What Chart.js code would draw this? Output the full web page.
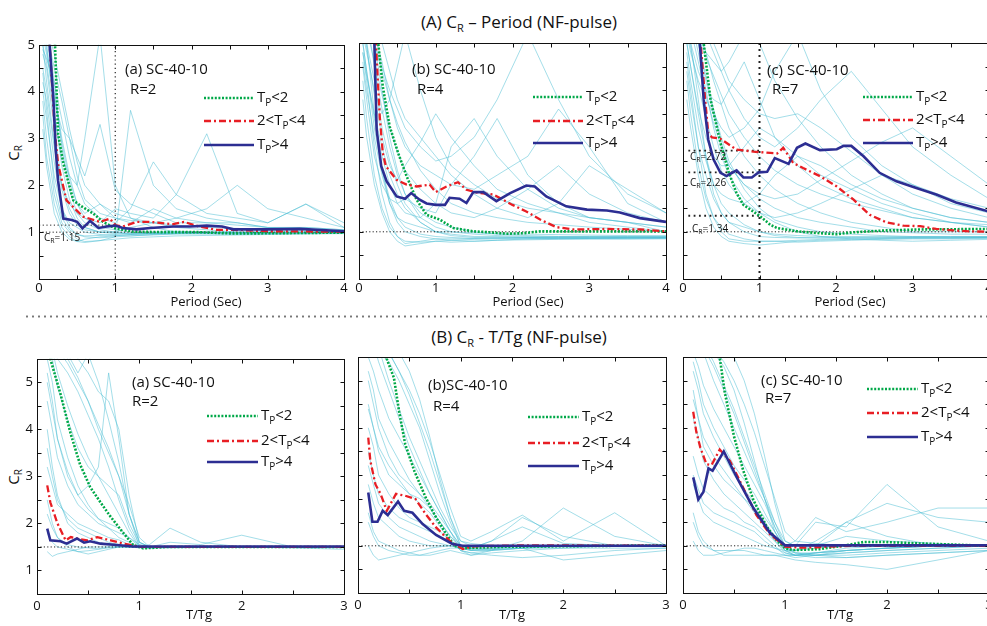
<!DOCTYPE html>
<html>
<head>
<meta charset="utf-8">
<script src="https://cdn.jsdelivr.net/npm/chart.js@4.4.1/dist/chart.umd.min.js"></script>
<style>
  html, body { margin: 0; padding: 0; background: #fff; overflow: hidden; }
  #fig { position: relative; width: 987px; height: 626px; overflow: hidden; font-family: "Open Sans", sans-serif; color: #111; }
  #fig canvas { position: absolute; }
  .title { position: absolute; left: 0; width: 1038px; text-align: center; font-size: 17px; line-height: 24px; }
  .title sub { font-size: 11px; vertical-align: -4px; line-height: 0; }
  .ylab { position: absolute; width: 40px; height: 20px; line-height: 20px; text-align: center; font-size: 15px; transform: rotate(-90deg); }
  .ylab sub { font-size: 10px; vertical-align: -3px; line-height: 0; }
  .sep { position: absolute; left: 24px; top: 315px; width: 963px; height: 3px;
         background: radial-gradient(circle, #777 0.9px, transparent 1.3px) 0 0 / 6px 3px repeat-x; }
</style>
</head>
<body>
<div id="fig">
  <div class="title" style="top:10px">(A) C<sub>R</sub> – Period (NF-pulse)</div>
  <div class="sep"></div>
  <div class="title" style="top:325px">(B) C<sub>R</sub> - T/Tg (NF-pulse)</div>
  <div class="ylab" style="left:-7px;top:143px">C<sub>R</sub></div>
  <div class="ylab" style="left:-7px;top:467px">C<sub>R</sub></div>
</div>
<script>
// ---- shared x grids of the individual (cyan) records ----
const topX = [0.05, 0.1, 0.2, 0.3, 0.4, 0.5, 0.6, 0.8, 1.0, 1.2, 1.5, 1.8, 2.2, 2.6, 3.0, 3.5, 4.0];
const botX = [0.1, 0.15, 0.2, 0.3, 0.4, 0.5, 0.6, 0.7, 0.8, 0.9, 1.0, 1.1, 1.3, 1.6, 2.0, 2.5, 3.0];

// ---- reference levels ----
const baseTop = 1.0;
const baseBot = 1.5;
const crMarksA = [1.15];
const crMarksC = [2.72, 2.26, 1.34];
const periodMark = 1.0;

// ---- (A)(a) R=2 ----
const recordsAa = [
  [4.8, 4.5, 3.2, 2.0, 1.5, 1.2, 1.1, 1.0, 1.0, 0.95, 0.98, 1.0, 1.0, 0.98, 0.97, 0.98, 1.0],
  [5.5, 5.2, 4.0, 3.0, 2.2, 1.6, 1.3, 1.1, 1.05, 1.0, 1.0, 1.02, 1.0, 1.0, 1.0, 1.0, 1.0],
  [4.2, 3.8, 2.5, 1.5, 1.1, 0.95, 0.9, 0.88, 0.9, 0.92, 0.95, 0.97, 0.96, 0.95, 0.96, 0.97, 0.98],
  [5.0, 4.6, 3.5, 2.6, 2.2, 2.0, 3.0, 5.2, 2.0, 1.3, 1.1, 1.0, 1.0, 1.0, 1.0, 1.0, 1.0],
  [3.8, 3.0, 1.8, 1.2, 1.0, 0.85, 0.8, 0.82, 0.9, 3.6, 2.0, 1.5, 1.3, 1.2, 1.1, 1.05, 1.0],
  [4.5, 4.0, 2.8, 2.0, 1.6, 1.4, 1.3, 1.2, 1.5, 1.4, 1.3, 1.8, 3.1, 1.4, 1.2, 1.6, 1.1],
  [5.8, 5.0, 3.6, 2.4, 1.7, 1.3, 1.1, 1.0, 1.0, 1.1, 1.2, 1.1, 1.05, 1.0, 1.0, 1.0, 0.98],
  [3.5, 2.6, 1.6, 1.1, 0.9, 0.8, 0.85, 0.9, 0.92, 0.95, 0.97, 0.98, 0.98, 0.98, 0.98, 0.98, 0.99],
  [4.9, 4.7, 4.2, 3.4, 2.6, 2.0, 1.6, 1.3, 1.2, 1.5, 2.5, 1.8, 1.4, 1.3, 1.2, 1.6, 1.2],
  [5.2, 4.8, 3.8, 3.2, 3.0, 2.6, 2.2, 3.3, 1.9, 1.6, 1.4, 1.2, 1.2, 1.2, 1.1, 1.1, 1.05],
  [4.0, 3.4, 2.2, 1.5, 1.2, 1.1, 1.0, 0.95, 0.93, 0.92, 0.94, 0.96, 0.97, 0.97, 0.97, 0.98, 0.98],
  [5.6, 5.3, 4.5, 3.8, 3.0, 2.2, 1.7, 1.4, 1.3, 1.25, 1.2, 1.3, 1.5, 2.0, 1.5, 1.3, 1.1],
  [6.0, 5.5, 4.2, 2.8, 1.9, 1.4, 1.2, 1.05, 1.0, 0.98, 0.97, 0.98, 0.99, 0.99, 0.99, 0.99, 1.0],
  [5.0, 4.2, 2.9, 1.9, 1.4, 1.15, 1.05, 1.0, 0.97, 0.96, 0.96, 0.97, 0.98, 0.98, 0.98, 0.99, 0.99],
  [4.4, 3.6, 2.0, 1.3, 1.05, 0.95, 0.92, 0.93, 0.95, 0.97, 0.98, 0.99, 0.99, 0.99, 0.99, 0.99, 1.0],
  [5.4, 4.9, 3.9, 2.9, 2.1, 1.6, 1.4, 1.6, 1.3, 1.2, 1.5, 1.3, 1.2, 1.15, 1.1, 1.1, 1.05],
  [3.2, 2.4, 1.4, 1.0, 0.85, 0.8, 0.78, 0.82, 0.85, 0.88, 0.9, 0.92, 0.93, 0.94, 0.95, 0.96, 0.97],
  [5.7, 5.4, 4.8, 4.0, 3.2, 2.5, 2.0, 1.6, 1.4, 1.3, 1.2, 1.15, 1.1, 1.08, 1.05, 1.03, 1.02]
];
const greenAaX = [0.15, 0.21, 0.25, 0.32, 0.45, 0.54, 0.71, 0.84, 1.0, 1.24, 1.67, 2.1, 2.55, 4.0];
const greenAaY = [6.5, 5.0, 3.1, 2.46, 1.68, 1.57, 1.4, 1.22, 1.08, 1.01, 1.0, 1.0, 0.97, 0.99];
const redAaX = [0.1, 0.14, 0.21, 0.25, 0.36, 0.49, 0.58, 0.8, 0.93, 1.0, 1.1, 1.28, 1.46, 1.76, 1.9, 2.1, 2.33, 2.55, 3.0, 4.0];
const redAaY = [6.5, 5.0, 3.09, 2.46, 1.68, 1.47, 1.33, 1.22, 1.29, 1.15, 1.12, 1.22, 1.22, 1.17, 1.22, 1.12, 1.05, 1.05, 1.02, 1.01];
const blueAaX = [0.1, 0.14, 0.19, 0.22, 0.25, 0.32, 0.43, 0.5, 0.57, 0.67, 0.78, 0.89, 1.0, 1.1, 1.28, 1.46, 1.76, 1.98, 2.2, 2.4, 2.55, 3.0, 3.42, 4.0];
const blueAaY = [6.5, 5.0, 3.8, 2.74, 2.1, 1.29, 1.26, 1.22, 1.08, 1.24, 1.09, 1.12, 1.14, 1.09, 1.06, 1.09, 1.12, 1.12, 1.14, 1.12, 1.06, 1.06, 1.07, 1.02];

// ---- (A)(b) R=4 ----
const recordsAb = [
  [5.5, 5.0, 3.5, 2.3, 1.6, 1.2, 1.0, 0.9, 0.85, 0.85, 0.86, 0.87, 0.88, 0.88, 0.88, 0.88, 0.88],
  [6.0, 5.6, 4.5, 3.6, 2.8, 2.2, 1.8, 1.4, 1.2, 1.1, 1.0, 0.95, 0.92, 0.9, 0.9, 0.9, 0.9],
  [4.8, 4.2, 2.8, 1.8, 1.2, 0.9, 0.75, 0.8, 0.85, 0.82, 0.8, 0.82, 0.85, 0.85, 0.85, 0.85, 0.86],
  [5.8, 5.5, 5.0, 4.5, 4.0, 3.6, 3.2, 2.8, 2.5, 2.6, 3.0, 3.8, 5.2, 3.8, 2.6, 1.8, 1.4],
  [5.2, 4.8, 4.0, 3.5, 3.8, 4.5, 5.2, 4.0, 3.0, 2.4, 2.0, 1.7, 1.5, 1.4, 1.3, 1.2, 1.1],
  [4.5, 3.8, 2.6, 2.0, 1.7, 1.6, 1.7, 1.5, 1.4, 2.0, 2.6, 3.4, 2.2, 1.6, 1.3, 1.2, 1.1],
  [5.5, 5.0, 4.2, 3.2, 2.5, 2.0, 1.6, 1.2, 1.0, 0.95, 0.9, 0.9, 0.88, 0.87, 0.87, 0.88, 0.88],
  [3.8, 3.0, 2.0, 1.4, 1.0, 0.8, 0.7, 0.75, 0.8, 0.78, 0.8, 0.82, 0.83, 0.84, 0.85, 0.85, 0.85],
  [5.9, 5.7, 5.2, 4.6, 3.8, 3.2, 2.8, 2.4, 2.2, 2.0, 1.9, 2.2, 2.6, 3.6, 2.8, 1.6, 1.2],
  [5.0, 4.4, 3.4, 2.6, 2.0, 1.6, 1.4, 1.3, 1.6, 2.8, 3.4, 2.6, 1.9, 1.5, 1.3, 1.2, 1.0],
  [6.0, 5.8, 5.5, 5.0, 4.4, 3.8, 3.4, 3.0, 2.6, 2.2, 1.8, 1.5, 1.3, 1.6, 2.4, 1.9, 1.4],
  [4.6, 4.0, 3.0, 2.2, 1.6, 1.3, 1.2, 1.1, 1.0, 1.0, 0.98, 0.96, 0.95, 0.94, 0.93, 0.92, 0.92],
  [5.3, 4.9, 3.9, 3.0, 2.4, 2.1, 2.4, 2.9, 3.5, 3.0, 2.4, 1.9, 1.6, 1.4, 1.2, 1.1, 1.0],
  [6.0, 5.8, 5.0, 4.0, 3.0, 2.3, 1.8, 1.3, 1.1, 1.0, 0.95, 0.92, 0.9, 0.9, 0.9, 0.9, 0.9],
  [5.0, 4.4, 3.2, 2.3, 1.7, 1.3, 1.1, 0.95, 0.9, 0.88, 0.86, 0.86, 0.86, 0.86, 0.86, 0.86, 0.87],
  [4.2, 3.4, 2.2, 1.5, 1.1, 0.9, 0.8, 0.78, 0.8, 0.82, 0.84, 0.85, 0.85, 0.86, 0.86, 0.87, 0.87],
  [5.6, 5.3, 4.6, 3.9, 3.2, 2.7, 2.3, 1.9, 1.6, 1.4, 1.3, 1.5, 1.9, 2.4, 1.8, 1.4, 1.2],
  [5.9, 5.6, 5.0, 4.4, 3.8, 3.3, 2.9, 2.3, 1.9, 1.6, 1.4, 1.3, 1.2, 1.15, 1.1, 1.05, 1.0],
  [4.8, 4.3, 3.5, 2.8, 2.2, 1.8, 1.5, 1.2, 1.0, 0.92, 0.88, 0.88, 0.88, 0.88, 0.88, 0.88, 0.88]
];
const greenAbX = [0.22, 0.25, 0.31, 0.4, 0.51, 0.62, 0.75, 0.88, 1.05, 1.23, 1.49, 1.7, 1.92, 2.14, 2.36, 2.79, 4.0];
const greenAbY = [6.5, 5.0, 4.08, 3.23, 2.67, 2.18, 1.68, 1.36, 1.26, 1.08, 1.01, 0.99, 0.96, 0.97, 1.01, 1.01, 1.01];
const redAbX = [0.17, 0.22, 0.27, 0.31, 0.35, 0.49, 0.62, 0.75, 0.92, 1.0, 1.14, 1.29, 1.4, 1.57, 1.75, 2.0, 2.18, 2.36, 2.57, 2.79, 3.23, 3.66, 4.0];
const redAbY = [7.0, 5.0, 3.45, 2.67, 2.39, 2.1, 2.0, 1.96, 2.0, 1.84, 1.96, 2.05, 1.89, 1.82, 1.79, 1.57, 1.43, 1.26, 1.1, 1.05, 1.06, 1.05, 1.01];
const blueAbX = [0.15, 0.2, 0.23, 0.29, 0.36, 0.49, 0.6, 0.68, 0.79, 0.88, 1.0, 1.12, 1.18, 1.31, 1.4, 1.49, 1.62, 1.79, 1.97, 2.18, 2.29, 2.44, 2.7, 2.97, 3.23, 3.4, 3.66, 4.0];
const blueAbY = [7.0, 5.0, 3.16, 2.39, 2.07, 1.75, 1.7, 1.82, 1.68, 1.6, 1.57, 1.57, 1.72, 1.7, 1.61, 1.84, 1.84, 1.65, 1.82, 1.98, 1.96, 1.75, 1.54, 1.47, 1.45, 1.41, 1.29, 1.21];

// ---- (A)(c) R=7 ----
const recordsAc = [
  [5.5, 5.0, 3.8, 2.6, 1.8, 1.4, 1.2, 1.0, 0.9, 0.88, 0.87, 0.87, 0.88, 0.88, 0.88, 0.88, 0.88],
  [6.0, 5.8, 5.3, 4.8, 4.2, 3.7, 3.2, 2.6, 2.2, 1.9, 1.6, 1.4, 1.2, 1.1, 1.0, 1.0, 1.0],
  [4.6, 4.0, 2.8, 1.8, 1.3, 1.0, 0.85, 0.8, 0.8, 0.8, 0.78, 0.8, 0.82, 0.84, 0.85, 0.85, 0.86],
  [5.8, 5.6, 5.2, 4.8, 4.6, 4.4, 4.6, 5.2, 5.0, 4.2, 3.4, 2.8, 2.2, 1.8, 1.5, 1.3, 1.2],
  [5.2, 4.8, 4.2, 3.8, 3.5, 3.2, 3.0, 3.2, 3.6, 4.4, 5.2, 4.0, 3.0, 2.4, 2.0, 1.6, 1.4],
  [4.8, 4.2, 3.2, 2.5, 2.0, 1.8, 1.7, 1.6, 1.8, 2.2, 2.6, 2.4, 2.0, 1.7, 1.5, 1.3, 1.2],
  [5.9, 5.7, 5.0, 4.2, 3.5, 2.9, 2.4, 2.0, 1.7, 1.5, 1.3, 1.2, 1.1, 1.0, 0.98, 0.95, 0.95],
  [3.8, 3.2, 2.2, 1.5, 1.1, 0.9, 0.8, 0.75, 0.72, 0.75, 0.8, 0.82, 0.84, 0.85, 0.86, 0.86, 0.87],
  [6.0, 5.9, 5.6, 5.2, 4.8, 4.4, 4.0, 3.4, 3.0, 2.8, 3.2, 3.8, 4.4, 3.6, 2.8, 2.2, 1.7],
  [5.0, 4.5, 3.6, 3.0, 2.6, 2.4, 2.4, 2.8, 3.2, 3.0, 2.6, 2.2, 1.9, 1.6, 1.4, 1.2, 1.1],
  [5.6, 5.3, 4.6, 3.9, 3.3, 2.8, 2.4, 2.0, 1.8, 1.7, 1.8, 2.1, 2.5, 2.9, 3.2, 2.6, 2.0],
  [4.4, 3.8, 2.8, 2.2, 1.7, 1.4, 1.2, 1.1, 1.0, 0.95, 0.92, 0.9, 0.9, 0.9, 0.9, 0.9, 0.9],
  [5.4, 5.0, 4.4, 4.0, 3.8, 3.7, 4.0, 4.6, 3.8, 3.0, 2.4, 2.0, 1.7, 1.5, 1.3, 1.2, 1.1],
  [6.0, 5.5, 4.8, 4.0, 3.2, 2.6, 2.2, 1.7, 1.4, 1.2, 1.0, 0.9, 0.85, 0.82, 0.8, 0.82, 0.84],
  [6.0, 5.7, 5.0, 4.3, 3.6, 3.0, 2.5, 1.9, 1.5, 1.25, 1.1, 1.0, 0.95, 0.92, 0.9, 0.9, 0.9],
  [5.0, 4.5, 3.5, 2.6, 2.0, 1.6, 1.4, 1.15, 1.0, 0.92, 0.88, 0.87, 0.87, 0.87, 0.88, 0.88, 0.88],
  [5.7, 5.5, 5.1, 4.7, 4.3, 3.9, 3.5, 3.0, 2.6, 2.3, 2.0, 1.8, 1.6, 1.45, 1.3, 1.2, 1.15],
  [4.2, 3.5, 2.4, 1.7, 1.3, 1.1, 0.95, 0.85, 0.8, 0.8, 0.82, 0.84, 0.85, 0.86, 0.87, 0.87, 0.88],
  [5.9, 5.8, 5.5, 5.3, 5.0, 4.6, 4.2, 3.8, 3.5, 3.4, 3.5, 3.2, 2.7, 2.2, 1.8, 1.5, 1.3],
  [5.3, 4.9, 4.1, 3.4, 2.8, 2.3, 2.0, 1.6, 1.4, 1.3, 1.4, 1.6, 1.9, 2.2, 2.0, 1.7, 1.5]
];
const greenAcX = [0.23, 0.27, 0.36, 0.49, 0.6, 0.7, 0.79, 1.0, 1.14, 1.23, 1.49, 1.79, 2.01, 2.23, 2.66, 3.1, 4.0];
const greenAcY = [6.5, 5.0, 3.8, 2.88, 2.25, 1.82, 1.57, 1.34, 1.15, 1.08, 1.01, 0.97, 0.95, 0.99, 1.03, 1.05, 1.06];
const redAcX = [0.19, 0.23, 0.29, 0.33, 0.38, 0.49, 0.7, 0.92, 1.14, 1.23, 1.31, 1.44, 1.57, 1.79, 2.01, 2.23, 2.44, 2.66, 2.88, 3.1, 3.31, 3.53, 3.75, 4.0];
const redAcY = [6.5, 5.0, 3.8, 3.09, 3.0, 2.97, 2.74, 2.7, 2.67, 2.66, 2.78, 2.46, 2.35, 2.18, 1.96, 1.68, 1.36, 1.2, 1.13, 1.12, 1.06, 1.03, 1.01, 1.0];
const blueAcX = [0.18, 0.22, 0.27, 0.33, 0.4, 0.49, 0.57, 0.62, 0.7, 0.79, 0.9, 0.99, 1.1, 1.2, 1.38, 1.49, 1.6, 1.79, 2.01, 2.1, 2.2, 2.36, 2.57, 2.79, 3.05, 3.31, 3.57, 4.0];
const blueAcY = [6.5, 5.0, 3.8, 2.95, 2.53, 2.25, 2.18, 2.23, 2.3, 2.15, 2.15, 2.26, 2.27, 2.56, 2.44, 2.78, 2.87, 2.73, 2.75, 2.82, 2.82, 2.6, 2.25, 2.07, 1.93, 1.79, 1.62, 1.43];

// ---- (B)(a) R=2 ----
const recordsBa = [
  [6.0, 5.8, 5.5, 5.2, 4.8, 4.3, 3.8, 3.2, 2.5, 1.9, 1.5, 1.48, 1.5, 1.5, 1.5, 1.5, 1.5],
  [5.5, 5.0, 4.2, 3.4, 2.8, 2.4, 2.1, 1.9, 1.7, 1.6, 1.5, 1.5, 1.5, 1.5, 1.5, 1.5, 1.5],
  [4.0, 3.2, 2.6, 2.0, 1.8, 1.7, 1.6, 1.55, 1.5, 1.5, 1.48, 1.47, 1.48, 1.49, 1.5, 1.5, 1.5],
  [6.0, 6.0, 5.9, 5.6, 5.2, 5.6, 5.0, 4.2, 3.3, 2.2, 1.6, 1.5, 1.5, 1.5, 1.5, 1.5, 1.5],
  [2.5, 2.0, 1.7, 1.5, 1.4, 1.35, 1.4, 1.45, 1.5, 1.5, 1.5, 1.5, 1.5, 1.5, 1.5, 1.5, 1.5],
  [5.2, 4.6, 3.8, 3.0, 2.6, 2.8, 3.2, 5.2, 3.8, 2.2, 1.5, 1.55, 1.9, 1.6, 1.5, 1.5, 1.5],
  [1.4, 1.3, 1.35, 1.4, 1.45, 1.5, 1.5, 1.5, 1.5, 1.5, 1.5, 1.5, 1.5, 1.5, 1.5, 1.5, 1.5],
  [5.8, 5.5, 4.9, 4.2, 3.6, 3.2, 3.0, 2.8, 2.6, 2.0, 1.55, 1.5, 1.6, 1.55, 1.75, 1.5, 1.5],
  [3.2, 2.8, 2.4, 2.2, 2.0, 1.9, 1.8, 1.7, 1.65, 1.55, 1.5, 1.5, 1.5, 1.5, 1.5, 1.48, 1.45],
  [6.0, 5.9, 5.7, 5.4, 5.0, 4.6, 4.0, 3.5, 3.0, 2.4, 1.7, 1.5, 1.5, 1.5, 1.5, 1.5, 1.5],
  [4.6, 4.0, 3.4, 2.8, 2.4, 2.2, 2.0, 1.9, 1.8, 1.7, 1.55, 1.5, 1.5, 1.5, 1.5, 1.5, 1.5],
  [1.8, 1.6, 1.5, 1.45, 1.4, 1.42, 1.45, 1.48, 1.5, 1.5, 1.5, 1.5, 1.5, 1.5, 1.5, 1.5, 1.5],
  [6.0, 6.0, 5.8, 5.5, 5.1, 4.6, 4.1, 3.6, 3.0, 2.2, 1.6, 1.5, 1.5, 1.5, 1.5, 1.5, 1.5],
  [5.0, 4.4, 3.8, 3.1, 2.6, 2.3, 2.1, 2.0, 1.9, 1.7, 1.5, 1.5, 1.5, 1.5, 1.5, 1.5, 1.5],
  [3.6, 3.0, 2.5, 2.1, 1.9, 1.8, 1.7, 1.6, 1.55, 1.5, 1.5, 1.5, 1.5, 1.5, 1.5, 1.5, 1.5],
  [6.0, 5.7, 5.2, 4.5, 3.9, 3.4, 3.0, 2.6, 2.2, 1.8, 1.5, 1.5, 1.5, 1.5, 1.5, 1.5, 1.5],
  [2.2, 1.9, 1.7, 1.55, 1.5, 1.48, 1.46, 1.5, 1.5, 1.5, 1.5, 1.5, 1.5, 1.5, 1.5, 1.5, 1.5],
  [6.0, 6.0, 6.0, 5.8, 5.5, 5.2, 4.8, 4.6, 4.0, 2.6, 1.6, 1.5, 1.5, 1.5, 1.5, 1.5, 1.5]
];
const greenBaX = [0.1, 0.13, 0.23, 0.33, 0.42, 0.52, 0.62, 0.72, 0.85, 0.94, 1.04, 1.27, 3.0];
const greenBaY = [6.5, 5.5, 4.75, 3.9, 3.26, 2.77, 2.45, 2.14, 1.78, 1.54, 1.47, 1.5, 1.5];
const redBaX = [0.1, 0.13, 0.2, 0.28, 0.33, 0.39, 0.49, 0.59, 0.72, 0.85, 1.01, 3.0];
const redBaY = [2.81, 2.45, 2.0, 1.64, 1.71, 1.68, 1.64, 1.71, 1.64, 1.57, 1.5, 1.5];
const blueBaX = [0.1, 0.13, 0.23, 0.29, 0.39, 0.46, 0.52, 0.62, 0.78, 0.94, 3.0];
const blueBaY = [1.89, 1.64, 1.62, 1.57, 1.68, 1.59, 1.62, 1.57, 1.54, 1.51, 1.51];

// ---- (B)(b) R=4 ----
const recordsBb = [
  [6.0, 5.8, 5.6, 5.4, 5.0, 4.5, 4.0, 3.3, 2.6, 2.0, 1.5, 1.4, 1.45, 1.5, 1.5, 1.5, 1.5],
  [4.5, 4.0, 3.5, 3.0, 2.8, 2.6, 2.5, 2.3, 2.0, 1.7, 1.5, 1.45, 1.5, 1.5, 1.5, 1.5, 1.5],
  [2.2, 1.8, 1.6, 1.5, 1.4, 1.35, 1.3, 1.3, 1.35, 1.4, 1.35, 1.3, 1.35, 1.4, 1.45, 1.5, 1.5],
  [6.0, 6.0, 6.0, 5.8, 5.6, 5.2, 4.6, 3.8, 2.9, 2.1, 1.5, 1.45, 1.6, 2.1, 1.7, 1.5, 1.5],
  [3.5, 3.0, 2.6, 2.3, 2.1, 2.0, 1.9, 1.8, 1.7, 1.6, 1.5, 1.5, 1.5, 1.5, 1.5, 1.5, 1.5],
  [1.5, 1.3, 1.2, 1.25, 1.3, 1.35, 1.4, 1.45, 1.48, 1.5, 1.5, 1.5, 1.5, 1.5, 1.5, 1.5, 1.5],
  [5.5, 5.2, 4.8, 4.2, 3.8, 3.4, 3.0, 2.6, 2.2, 1.8, 1.4, 1.3, 1.4, 1.6, 2.3, 1.7, 1.5],
  [6.0, 5.9, 5.8, 5.6, 5.2, 4.8, 4.3, 3.7, 3.0, 2.3, 1.7, 1.6, 1.8, 2.15, 1.6, 2.2, 1.5],
  [4.0, 3.6, 3.0, 2.6, 2.3, 2.1, 2.0, 1.9, 1.8, 1.6, 1.4, 1.35, 1.3, 1.25, 1.3, 1.4, 1.45],
  [5.0, 4.5, 4.0, 3.4, 3.0, 2.8, 2.6, 2.4, 2.1, 1.8, 1.5, 1.45, 1.45, 1.45, 1.45, 1.45, 1.45],
  [2.8, 2.4, 2.1, 1.9, 1.7, 1.6, 1.55, 1.5, 1.5, 1.5, 1.45, 1.4, 1.42, 1.45, 1.2, 1.3, 1.4],
  [6.0, 6.0, 5.7, 5.0, 4.4, 3.8, 3.3, 2.8, 2.3, 1.9, 1.6, 1.55, 1.5, 1.5, 1.5, 1.5, 1.5],
  [6.0, 6.0, 5.9, 5.6, 5.2, 4.7, 4.1, 3.5, 2.8, 2.1, 1.6, 1.5, 1.5, 1.5, 1.5, 1.5, 1.5],
  [5.2, 4.8, 4.2, 3.7, 3.3, 2.9, 2.6, 2.3, 2.0, 1.7, 1.45, 1.4, 1.4, 1.45, 1.5, 1.5, 1.5],
  [3.2, 2.8, 2.4, 2.1, 1.9, 1.8, 1.7, 1.6, 1.55, 1.5, 1.45, 1.42, 1.42, 1.45, 1.48, 1.5, 1.5],
  [6.0, 5.8, 5.4, 4.8, 4.2, 3.6, 3.1, 2.6, 2.2, 1.8, 1.5, 1.45, 1.6, 1.9, 1.55, 1.5, 1.5],
  [2.0, 1.7, 1.5, 1.4, 1.35, 1.3, 1.3, 1.35, 1.4, 1.45, 1.45, 1.45, 1.45, 1.48, 1.5, 1.5, 1.5],
  [4.4, 4.0, 3.6, 3.2, 2.9, 2.6, 2.4, 2.2, 1.9, 1.6, 1.4, 1.35, 1.4, 1.45, 1.5, 1.5, 1.5]
];
const greenBbX = [0.26, 0.28, 0.35, 0.4, 0.46, 0.55, 0.66, 0.76, 0.86, 0.94, 1.02, 1.44, 3.0];
const greenBbY = [6.0, 5.46, 5.06, 4.35, 3.65, 3.08, 2.52, 2.1, 1.75, 1.5, 1.45, 1.48, 1.51];
const redBbX = [0.1, 0.12, 0.17, 0.22, 0.28, 0.37, 0.46, 0.56, 0.66, 0.76, 0.89, 1.02, 1.12, 1.61, 3.0];
const redBbY = [3.79, 3.3, 2.8, 2.6, 2.24, 2.6, 2.56, 2.49, 2.17, 1.89, 1.61, 1.43, 1.49, 1.51, 1.5];
const blueBbX = [0.1, 0.14, 0.19, 0.24, 0.29, 0.39, 0.45, 0.53, 0.63, 0.76, 0.92, 1.02, 3.0];
const blueBbY = [2.63, 2.01, 2.01, 2.24, 2.15, 2.44, 2.24, 2.2, 1.96, 1.73, 1.54, 1.5, 1.5];

// ---- (B)(c) R=7 ----
const recordsBc = [
  [6.0, 5.9, 5.8, 5.6, 5.3, 4.8, 4.1, 3.3, 2.5, 1.8, 1.4, 1.3, 1.35, 1.45, 1.5, 1.5, 1.5],
  [4.8, 4.2, 3.6, 3.2, 2.9, 2.7, 2.5, 2.3, 2.0, 1.7, 1.4, 1.3, 1.3, 1.35, 1.4, 1.45, 1.5],
  [2.2, 1.8, 1.6, 1.4, 1.3, 1.3, 1.3, 1.3, 1.3, 1.3, 1.25, 1.2, 1.15, 1.1, 1.0, 1.2, 1.4],
  [6.0, 6.0, 6.0, 5.9, 5.8, 5.5, 5.0, 4.3, 3.4, 2.4, 1.6, 1.5, 2.0, 1.9, 2.8, 1.9, 1.6],
  [3.4, 3.0, 2.7, 2.5, 2.3, 2.2, 2.0, 1.9, 1.7, 1.5, 1.3, 1.25, 1.3, 1.4, 1.45, 1.5, 1.5],
  [1.6, 1.4, 1.3, 1.3, 1.35, 1.4, 1.45, 1.45, 1.4, 1.35, 1.3, 1.3, 1.35, 1.4, 1.45, 1.5, 1.5],
  [5.6, 5.3, 4.9, 4.4, 4.0, 3.6, 3.2, 2.8, 2.4, 1.9, 1.5, 1.6, 2.1, 1.8, 2.0, 2.3, 2.3],
  [6.0, 5.9, 5.7, 5.3, 4.8, 4.3, 3.7, 3.1, 2.5, 2.0, 1.6, 1.5, 1.5, 1.7, 1.6, 1.55, 1.5],
  [4.2, 3.8, 3.3, 2.9, 2.6, 2.4, 2.2, 2.0, 1.8, 1.6, 1.4, 1.35, 1.3, 1.25, 1.3, 1.35, 1.4],
  [5.2, 4.8, 4.3, 3.8, 3.4, 3.0, 2.7, 2.4, 2.1, 1.8, 1.45, 1.4, 1.5, 2.0, 1.7, 1.5, 1.5],
  [2.8, 2.5, 2.2, 2.0, 1.9, 1.8, 1.7, 1.6, 1.5, 1.45, 1.4, 1.4, 1.45, 1.5, 1.5, 1.5, 1.5],
  [6.0, 6.0, 5.9, 5.7, 5.4, 5.0, 4.5, 3.9, 3.2, 2.5, 1.8, 1.6, 1.55, 1.5, 1.5, 1.5, 1.5],
  [6.0, 6.0, 5.8, 5.4, 4.9, 4.4, 3.8, 3.2, 2.6, 2.0, 1.5, 1.35, 1.3, 1.35, 1.4, 1.45, 1.5],
  [5.4, 5.0, 4.5, 4.0, 3.6, 3.2, 2.9, 2.6, 2.2, 1.8, 1.45, 1.35, 1.35, 1.4, 1.45, 1.5, 1.5],
  [3.0, 2.7, 2.4, 2.2, 2.1, 2.0, 1.9, 1.8, 1.6, 1.45, 1.35, 1.3, 1.25, 1.25, 1.3, 1.35, 1.4],
  [6.0, 5.9, 5.6, 5.0, 4.5, 4.0, 3.5, 3.0, 2.5, 1.9, 1.45, 1.4, 1.6, 2.0, 2.4, 2.1, 2.0],
  [2.0, 1.7, 1.5, 1.4, 1.4, 1.4, 1.4, 1.35, 1.3, 1.3, 1.3, 1.3, 1.35, 1.4, 1.45, 1.5, 1.5],
  [4.6, 4.2, 3.8, 3.4, 3.1, 2.8, 2.5, 2.2, 1.9, 1.6, 1.35, 1.3, 1.3, 1.3, 1.35, 1.4, 1.45]
];
const greenBcX = [0.34, 0.36, 0.41, 0.5, 0.59, 0.69, 0.82, 0.92, 1.0, 1.08, 1.34, 1.57, 1.77, 1.99, 2.32, 3.0];
const greenBcY = [6.0, 5.49, 4.74, 3.82, 3.1, 2.47, 1.91, 1.61, 1.45, 1.41, 1.43, 1.5, 1.58, 1.58, 1.55, 1.5];
const redBcX = [0.1, 0.13, 0.17, 0.23, 0.28, 0.36, 0.46, 0.59, 0.72, 0.85, 1.0, 1.18, 1.67, 3.0];
const redBcY = [4.34, 3.92, 3.58, 3.23, 3.21, 3.54, 3.3, 2.73, 2.15, 1.75, 1.48, 1.46, 1.5, 1.5];
const blueBcX = [0.1, 0.15, 0.2, 0.25, 0.29, 0.4, 0.53, 0.69, 0.85, 1.0, 3.0];
const blueBcY = [2.95, 2.48, 2.64, 3.14, 3.09, 3.5, 2.94, 2.3, 1.78, 1.51, 1.51];

// ---- styling ----
const FONT = '"Open Sans", sans-serif';
const LM = 34, TM = 10, RM = 12, BM = 40;
const STYLE = {
  green: { color: "rgb(0,168,72)", width: 2.6, dash: [2, 1.6] },
  red: { color: "rgb(232,30,36)", width: 2.3, dash: [7, 3, 2, 3] },
  blue: { color: "rgb(44,46,146)", width: 2.6, dash: [] },
  record: { color: "rgba(74,190,212,0.5)", width: 1 },
};
const legendParts = [
  ["T", { sub: "P" }, "<2"],
  ["2<T", { sub: "P" }, "<4"],
  ["T", { sub: "P" }, ">4"],
];

function pts(xs, ys) {
  return xs.map((x, i) => ({ x: x, y: ys[i] }));
}

function curve(xs, ys, st) {
  return {
    data: pts(xs, ys), borderColor: st.color, borderWidth: st.width, borderDash: st.dash,
    pointRadius: 0, fill: false, tension: 0,
  };
}

function refLine(xs, ys, width, dash) {
  return {
    data: pts(xs, ys), borderColor: "#222", borderWidth: width, borderDash: dash,
    pointRadius: 0, fill: false, tension: 0,
  };
}

function drawRich(ctx, parts, x, y, size) {
  let cx = x;
  parts.forEach((p) => {
    if (typeof p === "string") {
      ctx.font = size + "px " + FONT;
      ctx.fillText(p, cx, y);
      cx += ctx.measureText(p).width;
    } else {
      ctx.font = Math.round(size * 0.66) + "px " + FONT;
      ctx.fillText(p.sub, cx, y + size * 0.32);
      cx += ctx.measureText(p.sub).width;
    }
  });
}

function decorPlugin(p, ox, oy) {
  return {
    id: "decor",
    afterDatasetsDraw(chart) {
      const ctx = chart.ctx;
      const a = chart.chartArea;
      ctx.save();
      ctx.setLineDash([]);
      ctx.strokeStyle = "#111";
      ctx.lineWidth = 1;
      const L = Math.round(a.left) + 0.5, T = Math.round(a.top) + 0.5;
      const R = Math.round(a.right) + 0.5, B = Math.round(a.bottom) + 0.5;
      ctx.strokeRect(L, T, R - L, B - T);
      ctx.beginPath();
      chart.scales.x.ticks.forEach((t) => {
        const px = Math.round(chart.scales.x.getPixelForValue(t.value)) + 0.5;
        ctx.moveTo(px, B); ctx.lineTo(px, B - 4);
        ctx.moveTo(px, T); ctx.lineTo(px, T + 4);
      });
      chart.scales.y.ticks.forEach((t) => {
        const py = Math.round(chart.scales.y.getPixelForValue(t.value)) + 0.5;
        ctx.moveTo(L, py); ctx.lineTo(L + 4, py);
        ctx.moveTo(R, py); ctx.lineTo(R - 4, py);
      });
      ctx.stroke();

      ctx.fillStyle = "#111";
      ctx.textBaseline = "middle";
      ctx.textAlign = "left";
      p.notes.forEach((n) => drawRich(ctx, n.parts, n.x - ox, n.y - oy, n.size));

      const lg = p.legend;
      [STYLE.green, STYLE.red, STYLE.blue].forEach((st, i) => {
        const y = lg.ys[i] - oy;
        ctx.beginPath();
        ctx.strokeStyle = st.color;
        ctx.lineWidth = st.width;
        ctx.setLineDash(st.dash);
        ctx.moveTo(lg.x1 - ox, y);
        ctx.lineTo(lg.x2 - ox, y);
        ctx.stroke();
        ctx.setLineDash([]);
        ctx.fillStyle = "#111";
        drawRich(ctx, legendParts[i], lg.tx - ox, y, 15);
      });

      ctx.textAlign = "center";
      ctx.font = "13px " + FONT;
      ctx.fillText(p.xTitle.text, p.xTitle.x - ox, p.xTitle.y - oy);
      ctx.restore();
    },
  };
}

function makePanel(p) {
  const fig = document.getElementById("fig");
  const canvas = document.createElement("canvas");
  const w = p.area.r - p.area.l + LM + RM;
  const h = p.area.b - p.area.t + TM + BM;
  const ox = p.area.l - LM, oy = p.area.t - TM;
  canvas.width = w;
  canvas.height = h;
  canvas.style.left = ox + "px";
  canvas.style.top = oy + "px";
  canvas.style.width = w + "px";
  canvas.style.height = h + "px";
  fig.appendChild(canvas);

  const datasets = [
    curve(p.blue[0], p.blue[1], STYLE.blue),
    curve(p.red[0], p.red[1], STYLE.red),
    curve(p.green[0], p.green[1], STYLE.green),
  ];
  p.refs.forEach((r) => datasets.push(refLine(r.xs, r.ys, r.width, r.dash)));
  p.records.forEach((rec) => datasets.push(curve(p.recX, rec, { color: STYLE.record.color, width: STYLE.record.width, dash: [] })));

  const isInt = (v) => Math.abs(v - Math.round(v)) < 1e-6;
  new Chart(canvas, {
    type: "line",
    data: { datasets: datasets },
    options: {
      responsive: false,
      animation: false,
      devicePixelRatio: 1,
      layout: { padding: { top: TM, right: RM, left: 0, bottom: 0 } },
      plugins: { legend: { display: false }, tooltip: { enabled: false } },
      scales: {
        x: {
          type: "linear", min: 0, max: p.xmax,
          grid: { display: false, drawTicks: false }, border: { display: false },
          ticks: {
            stepSize: 0.5, autoSkip: false, maxRotation: 0, padding: p.xPad, color: "#111",
            font: { family: FONT, size: 13 },
            callback: (v) => (isInt(v) ? String(Math.round(v)) : ""),
          },
          afterFit: (s) => { s.height = BM; },
        },
        y: {
          type: "linear", min: p.ymin, max: p.ymax,
          grid: { display: false, drawTicks: false }, border: { display: false },
          ticks: {
            display: p.showY, stepSize: 0.5, autoSkip: false, padding: 4, color: "#111",
            font: { family: FONT, size: 13 },
            callback: (v) => (isInt(v) && v > 0 ? String(Math.round(v)) : ""),
          },
          afterFit: (s) => { s.width = LM; },
        },
      },
    },
    plugins: [decorPlugin(p, ox, oy)],
  });
}

const topRefs = (extra) => [{ xs: [0, 4], ys: [baseTop, baseTop], width: 1, dash: [1.2, 2.2] }].concat(extra);
const botRefs = [{ xs: [0, 3], ys: [baseBot, baseBot], width: 1, dash: [1.2, 2.2] }];

const panels = [
  {
    area: { l: 39, r: 344, t: 43, b: 279 }, xmax: 4, ymin: 0, ymax: 5, showY: true, xPad: 1,
    records: recordsAa, recX: topX,
    green: [greenAaX, greenAaY], red: [redAaX, redAaY], blue: [blueAaX, blueAaY],
    refs: topRefs([
      { xs: [0, periodMark], ys: [crMarksA[0], crMarksA[0]], width: 1, dash: [1.2, 2.5] },
      { xs: [periodMark, periodMark], ys: [0, 5], width: 1.2, dash: [1.2, 3] },
    ]),
    notes: [
      { parts: ["(a) SC-40-10"], x: 125, y: 70, size: 15 },
      { parts: ["R=2"], x: 130, y: 90, size: 15 },
      { parts: ["C", { sub: "R" }, "=1.15"], x: 44, y: 238, size: 10 },
    ],
    legend: { x1: 204, x2: 254, tx: 257, ys: [98, 121, 145] },
    xTitle: { text: "Period (Sec)", x: 206, y: 302 },
  },
  {
    area: { l: 359, r: 666, t: 43, b: 279 }, xmax: 4, ymin: 0, ymax: 5, showY: false, xPad: 1,
    records: recordsAb, recX: topX,
    green: [greenAbX, greenAbY], red: [redAbX, redAbY], blue: [blueAbX, blueAbY],
    refs: topRefs([]),
    notes: [
      { parts: ["(b) SC-40-10"], x: 412, y: 70, size: 15 },
      { parts: ["R=4"], x: 417, y: 90, size: 15 },
    ],
    legend: { x1: 533, x2: 583, tx: 586, ys: [97, 121, 143] },
    xTitle: { text: "Period (Sec)", x: 528, y: 302 },
  },
  {
    area: { l: 683, r: 989, t: 43, b: 279 }, xmax: 4, ymin: 0, ymax: 5, showY: false, xPad: 1,
    records: recordsAc, recX: topX,
    green: [greenAcX, greenAcY], red: [redAcX, redAcY], blue: [blueAcX, blueAcY],
    refs: topRefs(
      crMarksC.map((v) => ({ xs: [0.07, periodMark], ys: [v, v], width: 1.8, dash: [1.8, 3.5] }))
        .concat([{ xs: [periodMark, periodMark], ys: [0, 5], width: 2, dash: [2, 4] }])
    ),
    notes: [
      { parts: ["(c) SC-40-10"], x: 767, y: 71, size: 15 },
      { parts: ["R=7"], x: 772, y: 90, size: 15 },
      { parts: ["C", { sub: "R" }, "=2.72"], x: 690, y: 157, size: 10 },
      { parts: ["C", { sub: "R" }, "=2.26"], x: 690, y: 183, size: 10 },
      { parts: ["C", { sub: "R" }, "=1.34"], x: 692, y: 229, size: 10 },
    ],
    legend: { x1: 863, x2: 913, tx: 916, ys: [97, 120, 143] },
    xTitle: { text: "Period (Sec)", x: 850, y: 302 },
  },
  {
    area: { l: 37, r: 344, t: 357, b: 594 }, xmax: 3, ymin: 0.5, ymax: 5.5, showY: true, xPad: 4,
    records: recordsBa, recX: botX,
    green: [greenBaX, greenBaY], red: [redBaX, redBaY], blue: [blueBaX, blueBaY],
    refs: botRefs,
    notes: [
      { parts: ["(a) SC-40-10"], x: 132, y: 383, size: 15 },
      { parts: ["R=2"], x: 132, y: 402, size: 15 },
    ],
    legend: { x1: 207, x2: 258, tx: 261, ys: [416, 441, 462] },
    xTitle: { text: "T/Tg", x: 199, y: 615 },
  },
  {
    area: { l: 358, r: 666, t: 357, b: 593 }, xmax: 3, ymin: 0.5, ymax: 5.5, showY: false, xPad: 4,
    records: recordsBb, recX: botX,
    green: [greenBbX, greenBbY], red: [redBbX, redBbY], blue: [blueBbX, blueBbY],
    refs: botRefs,
    notes: [
      { parts: ["(b)SC-40-10"], x: 428, y: 386, size: 15 },
      { parts: ["R=4"], x: 433, y: 407, size: 15 },
    ],
    legend: { x1: 528, x2: 579, tx: 582, ys: [417, 443, 466] },
    xTitle: { text: "T/Tg", x: 512, y: 615 },
  },
  {
    area: { l: 683, r: 989, t: 357, b: 593 }, xmax: 3, ymin: 0.5, ymax: 5.5, showY: false, xPad: 4,
    records: recordsBc, recX: botX,
    green: [greenBcX, greenBcY], red: [redBcX, redBcY], blue: [blueBcX, blueBcY],
    refs: botRefs,
    notes: [
      { parts: ["(c) SC-40-10"], x: 761, y: 381, size: 15 },
      { parts: ["R=7"], x: 765, y: 399, size: 15 },
    ],
    legend: { x1: 867, x2: 918, tx: 921, ys: [389, 413, 437] },
    xTitle: { text: "T/Tg", x: 840, y: 615 },
  },
];

panels.forEach(makePanel);
</script>
</body>
</html>
